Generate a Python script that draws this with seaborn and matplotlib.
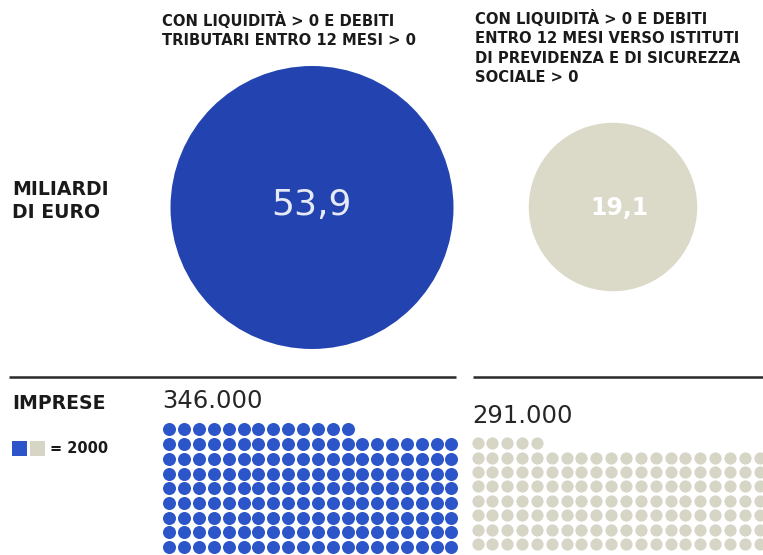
import numpy as np
import pandas as pd
import matplotlib
matplotlib.use("Agg")
import matplotlib.pyplot as plt
import seaborn as sns

# Data
serie = ['tributari', 'previdenza']
titoli = ['CON LIQUIDITÀ > 0 E DEBITI\nTRIBUTARI ENTRO 12 MESI > 0',
          'CON LIQUIDITÀ > 0 E DEBITI\nENTRO 12 MESI VERSO ISTITUTI\nDI PREVIDENZA E DI SICUREZZA\nSOCIALE > 0']
miliardi = [53.9, 19.1]
miliardi_lbl = ['53,9', '19,1']
imprese = [346000, 291000]
imprese_lbl = ['346.000', '291.000']
unita = 2000
colonne = 20

# Colours
circle_col = ['#2343b0', '#dbd9c8']
dot_col = ['#2b55c8', '#d6d5c6']
circle_txt = ['#e6eaf6', '#ffffff']
ink = '#1a1a1a'

sns.set_theme(style='white')
plt.rcParams['font.family'] = ['DejaVu Sans']

W, H = 763, 555
fig = plt.figure(figsize=(W / 100, H / 100), dpi=100)
ax = fig.add_axes([0, 0, 1, 1])
ax.set_xlim(0, W)
ax.set_ylim(H, 0)
ax.axis('off')

px2pt = 72 / 100

# Circles: area proportional to the value
big_d = 283  # diameter in px of the largest circle
k = (big_d * px2pt) ** 2 / max(miliardi)
cx = [312, 613]
cy = [207.5, 207]
circ = pd.DataFrame({'x': cx, 'y': cy, 'valore': miliardi, 'serie': serie})
sns.scatterplot(data=circ, x='x', y='y', hue='serie', palette=dict(zip(serie, circle_col)),
                size='valore', sizes={v: k * v for v in miliardi},
                linewidth=0, legend=False, ax=ax)
ax.text(311, 205, miliardi_lbl[0], color=circle_txt[0], fontsize=26, ha='center', va='center')
ax.text(619, 208, miliardi_lbl[1], color=circle_txt[1], fontsize=17, fontweight='bold',
        ha='center', va='center')

# Column headers
ax.text(162, 12, titoli[0], fontsize=10.6, fontweight='bold', va='top', ha='left',
        color=ink, linespacing=1.3)
ax.text(475, 10, titoli[1], fontsize=10.6, fontweight='bold', va='top', ha='left',
        color=ink, linespacing=1.36)

# Row labels
ax.text(12, 180, 'MILIARDI\nDI EURO', fontsize=13.6, fontweight='bold', va='top',
        ha='left', color=ink, linespacing=1.3)
ax.text(12, 409, 'IMPRESE', fontsize=13.6, fontweight='bold', va='baseline', ha='left',
        color=ink)
ax.scatter([19.5, 37], [448.5, 448.5], marker='s', s=(15 * px2pt) ** 2, c=dot_col,
           linewidths=0)
ax.text(50, 453, '= 2000', fontsize=10.5, fontweight='bold', va='baseline', ha='left',
        color=ink)

# Separator lines
ax.hlines(377, 9, 456, color='#2a2a2a', lw=1.8)
ax.hlines(377, 473, W, color='#2a2a2a', lw=1.8)

# Number labels
ax.text(162, 408, imprese_lbl[0], fontsize=17.5, va='baseline', ha='left', color='#262626')
ax.text(472, 423, imprese_lbl[1], fontsize=17.5, va='baseline', ha='left', color='#262626')

# Dot grids: one dot = 2000 companies, rows of 20, remainder on the top row
grid_geom = [
    # left px, bottom px (from top), x spacing, y spacing, dot diam px
    (161.9, 554.4, 14.85, 14.7, 13.0),
    (470.1, 551.2, 14.85, 14.4, 12.2),
]
for i in range(2):
    n = imprese[i] // unita
    full, rem = divmod(n, colonne)
    nrows = full + (1 if rem else 0)
    idx = np.arange(n)
    col = idx % colonne
    row = np.where(idx >= full * colonne, full, full - 1 - idx // colonne)
    dots = pd.DataFrame({'col': col, 'row': row})
    left, bottom, dx, dy, dd = grid_geom[i]
    axd = fig.add_axes([left / W, (H - bottom) / H, colonne * dx / W, nrows * dy / H])
    sns.scatterplot(data=dots, x='col', y='row', color=dot_col[i], s=(dd * px2pt) ** 2,
                    linewidth=0, legend=False, ax=axd)
    axd.set_xlim(-0.5, colonne - 0.5)
    axd.set_ylim(-0.5, nrows - 0.5)
    axd.axis('off')

fig.savefig('out.png', dpi=100)
